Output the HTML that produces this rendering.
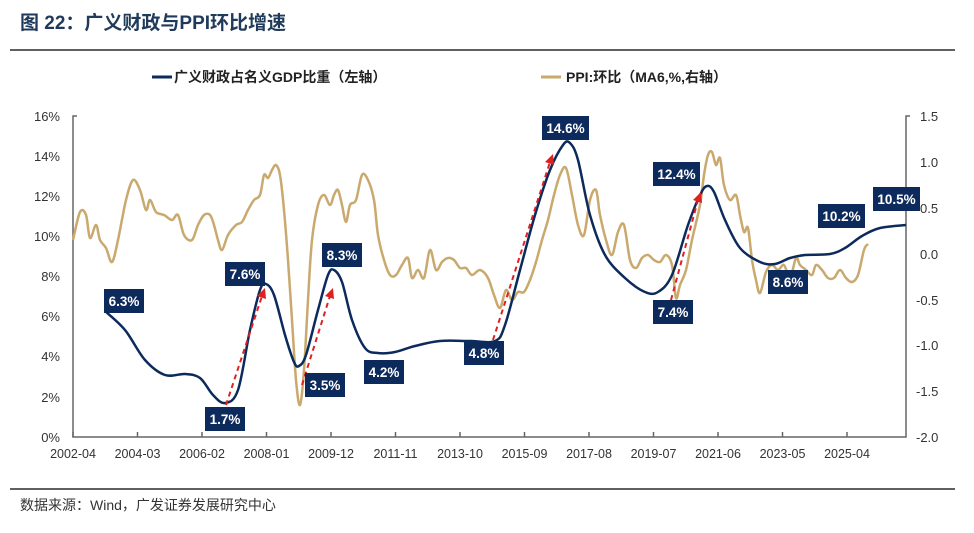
<!DOCTYPE html>
<html><head><meta charset="utf-8"><style>
body{margin:0;background:#fff;width:974px;height:528px;overflow:hidden;font-family:"Liberation Sans","Noto Sans CJK SC",sans-serif}
</style></head><body>
<svg id="s" width="974" height="528" xmlns="http://www.w3.org/2000/svg" font-family="Liberation Sans, Noto Sans CJK SC, sans-serif">
<text x="20" y="29" font-size="19" font-weight="bold" fill="#1f3a5a">图  22：广义财政与PPI环比增速</text>
<line x1="10" y1="50" x2="955" y2="50" stroke="#000" stroke-width="1.2"/>
<line x1="152" y1="77" x2="172" y2="77" stroke="#0d2a5c" stroke-width="3"/>
<text x="174" y="82" font-size="14" font-weight="bold" fill="#222">广义财政占名义GDP比重（左轴）</text>
<line x1="541" y1="77" x2="561" y2="77" stroke="#c9a96e" stroke-width="3"/>
<text x="566" y="82" font-size="14" font-weight="bold" fill="#222">PPI:环比（MA6,%,右轴）</text>
<g font-size="13" fill="#333">
<text x="60" y="121" text-anchor="end">16%</text><text x="60" y="161" text-anchor="end">14%</text>
<text x="60" y="201" text-anchor="end">12%</text><text x="60" y="241" text-anchor="end">10%</text>
<text x="60" y="281" text-anchor="end">8%</text><text x="60" y="321" text-anchor="end">6%</text>
<text x="60" y="361" text-anchor="end">4%</text><text x="60" y="402" text-anchor="end">2%</text>
<text x="60" y="442" text-anchor="end">0%</text>
<text x="920" y="121">1.5</text><text x="920" y="167">1.0</text><text x="920" y="213">0.5</text>
<text x="920" y="259">0.0</text><text x="916" y="305">-0.5</text><text x="916" y="350">-1.0</text>
<text x="916" y="396">-1.5</text><text x="916" y="442">-2.0</text>
</g>
<g stroke="#666" stroke-width="1.5" fill="none">
<path d="M77 116H73V437H906V116H910"/>
</g>
<g id="ticks" stroke="#666" stroke-width="1.5"></g>
<g id="xl" font-size="12.5" fill="#333" text-anchor="middle"></g>
<path id="ppi" fill="none" stroke="#c9a96e" stroke-width="2.5"/>
<path id="gdp" fill="none" stroke="#0d2a5c" stroke-width="2.5"/>
<g stroke="#e02020" stroke-width="2" stroke-dasharray="5,4" fill="none">
<line x1="226" y1="405" x2="262" y2="296"/><line x1="302" y1="385" x2="330" y2="296"/>
<line x1="493" y1="340" x2="550" y2="162"/><line x1="671" y1="300" x2="698" y2="200"/>
</g>
<g fill="#e02020">
<polygon points="265,288 257,296 266,299"/><polygon points="333,288 325,296 334,299"/>
<polygon points="553,154 545,162 554,165"/><polygon points="701,192 693,200 702,203"/>
</g>
<g id="lab" font-size="13.5" font-weight="bold" fill="#fff" text-anchor="middle"></g>
<line x1="10" y1="489" x2="955" y2="489" stroke="#000" stroke-width="1.2"/>
<text x="20" y="510" font-size="14" fill="#333">数据来源：Wind，广发证券发展研究中心</text>
</svg>
<script>
function cr(p){let d="M"+p[0][0]+" "+p[0][1];for(let i=0;i<p.length-1;i++){let a=p[i-1]||p[i],b=p[i],c=p[i+1],e=p[i+2]||c;
d+=" C"+(b[0]+(c[0]-a[0])/6).toFixed(1)+" "+(b[1]+(c[1]-a[1])/6).toFixed(1)+" "+(c[0]-(e[0]-b[0])/6).toFixed(1)+" "+(c[1]-(e[1]-b[1])/6).toFixed(1)+" "+c[0]+" "+c[1];}return d;}
const g=[[105,311],[125,330],[145,360],[165,375],[185,374],[200,378],[213,395],[225,403],[238,390],[250,330],[260,290],[266,284],[274,295],[285,335],[294,362],[299,366],[306,355],[318,310],[328,275],[334,270],[342,282],[352,320],[365,348],[378,353],[395,352],[415,346],[440,341],[470,341],[495,341],[505,325],[520,270],[535,215],[550,170],[563,145],[570,143],[578,160],[590,215],[605,255],[625,278],[645,292],[658,292],[672,275],[688,225],[700,195],[707,186],[714,192],[725,220],[740,248],[760,262],[775,264],[790,258],[805,255],[830,254],[845,248],[862,236],[880,228],[906,225]];
const p=[[73,240],[80,212],[86,215],[90,238],[96,225],[100,240],[106,248],[112,262],[118,240],[126,200],[133,180],[140,190],[146,210],[150,200],[156,212],[164,215],[172,220],[178,215],[184,235],[192,240],[198,225],[204,215],[210,215],[214,225],[218,240],[222,250],[228,235],[236,225],[242,222],[248,210],[254,200],[260,195],[264,175],[268,178],[272,170],[276,165],[280,175],[284,210],[288,260],[292,320],[296,380],[300,405],[304,370],[308,300],[312,240],[318,205],[324,195],[330,205],[334,195],[338,190],[342,205],[346,222],[350,205],[356,200],[362,175],[368,180],[374,200],[378,235],[384,260],[390,275],[396,275],[402,265],[408,258],[412,278],[418,270],[424,278],[430,250],[436,270],[442,262],[448,258],[454,260],[460,268],[466,268],[472,275],[480,270],[488,278],[494,295],[500,308],[506,290],[512,300],[518,292],[524,292],[530,280],[536,262],[542,240],[548,220],[554,195],[560,175],[566,168],[572,195],[578,225],[584,235],[590,200],[596,190],[600,215],[606,240],[612,255],[618,232],[624,225],[630,260],[636,268],[642,258],[648,255],[654,260],[660,262],[666,255],[672,265],[676,298],[680,285],[686,270],[692,240],[700,205],[704,175],[708,155],[712,152],[716,165],[720,158],[724,185],[730,200],[736,195],[740,215],[744,232],[748,228],[752,260],[756,280],[760,293],[766,272],[772,265],[778,270],[784,265],[790,278],[796,258],[800,265],[806,270],[812,275],[816,265],[822,270],[828,278],[834,278],[840,270],[846,278],[852,282],[858,275],[864,250],[868,244]];
document.getElementById("gdp").setAttribute("d",cr(g));
document.getElementById("ppi").setAttribute("d",cr(p));
const NS="http://www.w3.org/2000/svg";
const xl=["2002-04","2004-03","2006-02","2008-01","2009-12","2011-11","2013-10","2015-09","2017-08","2019-07","2021-06","2023-05","2025-04"];
xl.forEach((t,i)=>{let x=73+i*64.5;let l=document.createElementNS(NS,"line");l.setAttribute("x1",x);l.setAttribute("x2",x);l.setAttribute("y1",432);l.setAttribute("y2",437);document.getElementById("ticks").appendChild(l);
let tx=document.createElementNS(NS,"text");tx.setAttribute("x",x);tx.setAttribute("y",458);tx.textContent=t;document.getElementById("xl").appendChild(tx);});
[[104,289,"6.3%"],[205,407,"1.7%"],[225,262,"7.6%"],[305,373,"3.5%"],[322,243,"8.3%"],[364,360,"4.2%"],[464,341,"4.8%"],[542,116,"14.6%"],[653,300,"7.4%"],[653,162,"12.4%"],[768,270,"8.6%"],[818,204,"10.2%"],[873,187,"10.5%"]].forEach(a=>{
let w=a[2].length>4?47:40;let r=document.createElementNS(NS,"rect");r.setAttribute("x",a[0]);r.setAttribute("y",a[1]);r.setAttribute("width",w);r.setAttribute("height",24);r.setAttribute("fill","#0d2a5c");
let L=document.getElementById("lab");L.appendChild(r);let t=document.createElementNS(NS,"text");t.setAttribute("x",a[0]+w/2);t.setAttribute("y",a[1]+17);t.textContent=a[2];L.appendChild(t);});
</script>
</body></html>
